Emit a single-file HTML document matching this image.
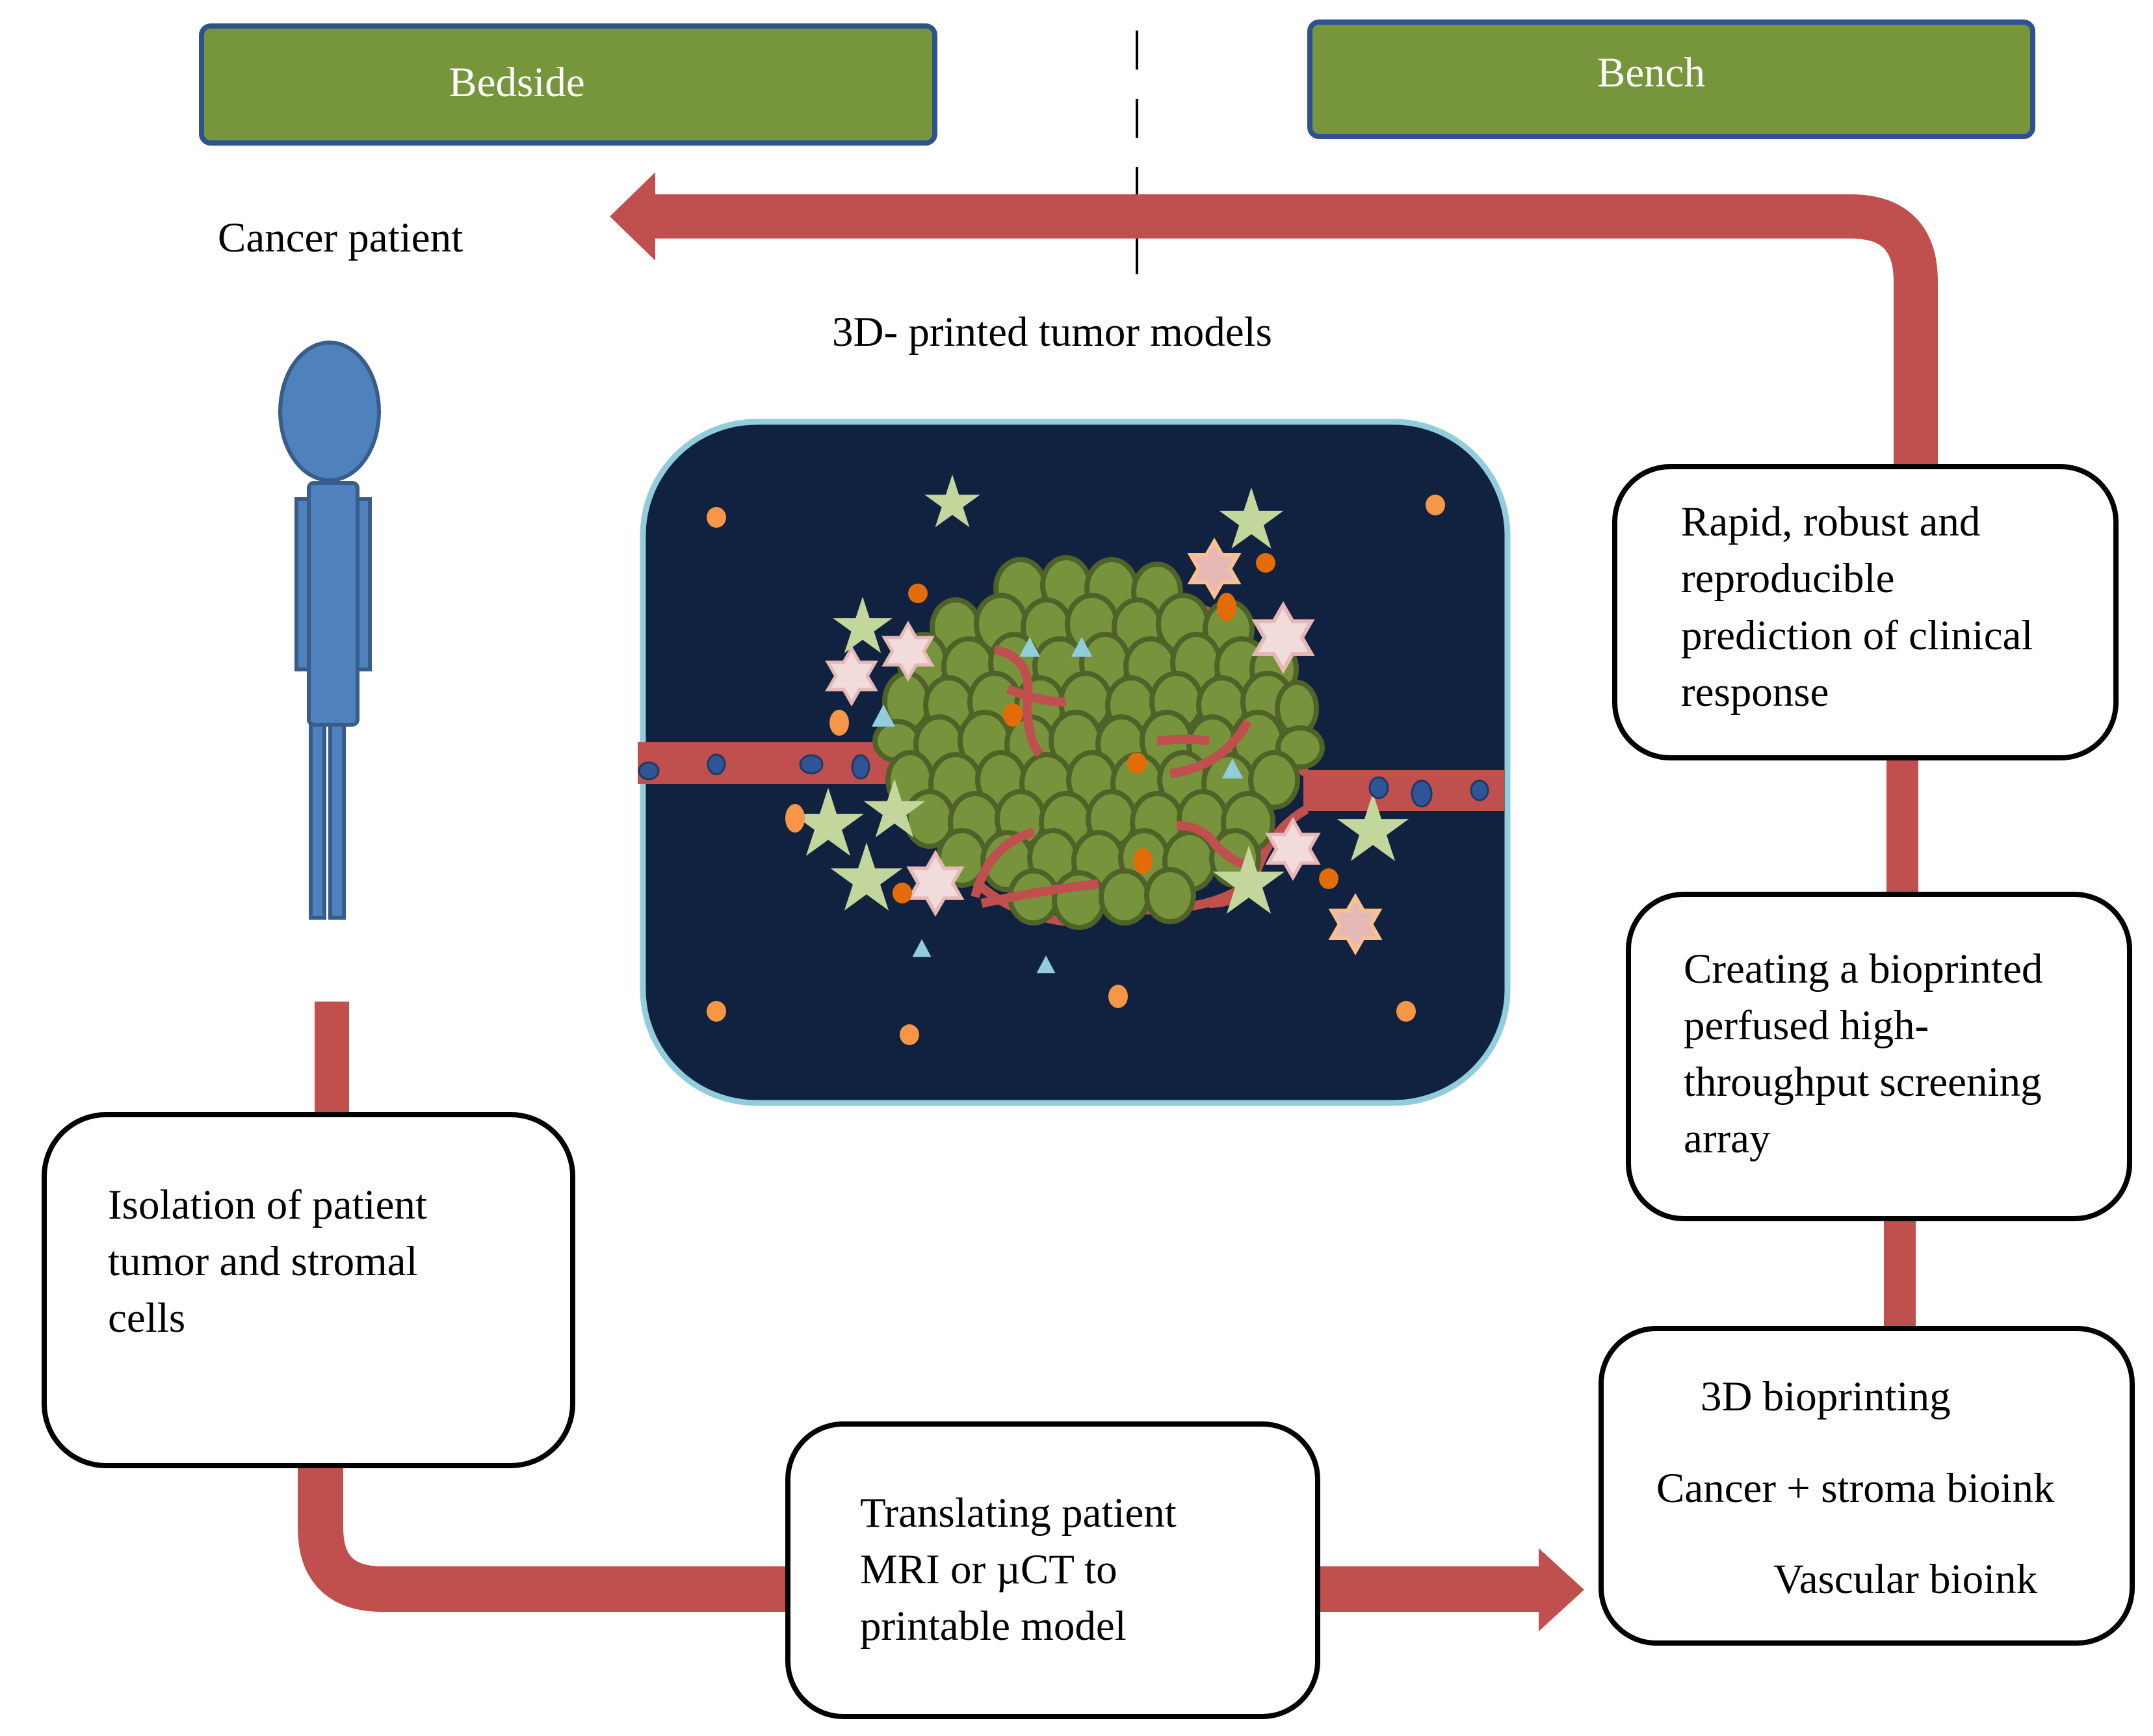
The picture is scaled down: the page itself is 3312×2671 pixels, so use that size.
<!DOCTYPE html>
<html><head><meta charset="utf-8"><style>
html,body{margin:0;padding:0;background:#fff}
body{width:3312px;height:2671px;overflow:hidden;position:relative;font-family:"Liberation Serif",serif;}
svg{position:absolute;left:0;top:0}
</style></head><body>
<svg width="3312" height="2671" viewBox="0 0 3312 2671" xmlns="http://www.w3.org/2000/svg">
<defs>
<polygon id="s5" points="0,-1 0.224,-0.309 0.951,-0.309 0.363,0.118 0.588,0.809 0,0.382 -0.588,0.809 -0.363,0.118 -0.951,-0.309 -0.224,-0.309"/>
<polygon id="s6" points="0,-1 0.289,-0.5 0.866,-0.5 0.577,0 0.866,0.5 0.289,0.5 0,1 -0.289,0.5 -0.866,0.5 -0.577,0 -0.866,-0.5 -0.289,-0.5"/>
<polygon id="tri" points="0,-1 0.9,0.7 -0.9,0.7"/>
</defs>
<rect x="310" y="40" width="1128" height="180" rx="14" fill="#77963b" stroke="#2f528f" stroke-width="8"/>
<rect x="2015" y="34" width="1112" height="176" rx="14" fill="#77963b" stroke="#2f528f" stroke-width="8"/>
<text x="795" y="148" font-size="65" fill="#fff" text-anchor="middle" font-family="Liberation Serif">Bedside</text>
<text x="2540" y="133" font-size="65" fill="#fff" text-anchor="middle" font-family="Liberation Serif">Bench</text>
<line x1="1749" y1="47" x2="1749" y2="446" stroke="#000" stroke-width="4" stroke-dasharray="60,45"/>
<path d="M1000 333 H2847 Q2947 333 2947 433 V722" fill="none" stroke="#c0504d" stroke-width="68"/>
<polygon points="938,333 1008,265 1008,401" fill="#c0504d"/>
<text x="335" y="387" font-size="65" font-family="Liberation Serif">Cancer patient</text>
<text x="1280" y="532" font-size="65" font-family="Liberation Serif">3D- printed tumor models</text>
<g fill="#4f81bd" stroke="#385d8a" stroke-width="6">
<rect x="456" y="768" width="19" height="262"/>
<rect x="550" y="768" width="19" height="262"/>
<rect x="478" y="1100" width="21" height="312"/>
<rect x="508" y="1100" width="21" height="312"/>
<rect x="475" y="743" width="75" height="372" rx="8"/>
<ellipse cx="507" cy="633" rx="76" ry="106"/>
</g>
<rect x="484" y="1541" width="53" height="176" fill="#c0504d"/>
<path d="M493 2255 V2350 Q493 2445 588 2445 H1212" fill="none" stroke="#c0504d" stroke-width="70"/>
<path d="M2027 2445 H2372" fill="none" stroke="#c0504d" stroke-width="70"/>
<polygon points="2437,2446 2367,2382 2367,2510" fill="#c0504d"/>
<rect x="2898" y="1873" width="49" height="173" fill="#c0504d"/>
<rect x="2902" y="1164" width="49" height="214" fill="#c0504d"/>
<g fill="#fff" stroke="#000" stroke-width="8">
<rect x="68" y="1715" width="813" height="540" rx="95"/>
<rect x="1212" y="2191" width="815" height="450" rx="85"/>
<rect x="2463" y="2044" width="817" height="484" rx="85"/>
<rect x="2505" y="1376" width="771" height="499" rx="85"/>
<rect x="2484" y="718" width="771" height="448" rx="85"/>
</g>
<g font-size="65" font-family="Liberation Serif" fill="#000">
<text x="166" y="1875">Isolation of patient</text>
<text x="166" y="1962">tumor and stromal</text>
<text x="166" y="2049">cells</text>
<text x="1323" y="2349">Translating patient</text>
<text x="1323" y="2436">MRI or µCT to</text>
<text x="1323" y="2523">printable model</text>
<text x="2616" y="2170">3D bioprinting</text>
<text x="2548" y="2311">Cancer + stroma bioink</text>
<text x="2728" y="2451">Vascular bioink</text>
<text x="2590" y="1512">Creating a bioprinted</text>
<text x="2590" y="1599">perfused high-</text>
<text x="2590" y="1686">throughput screening</text>
<text x="2590" y="1773">array</text>
<text x="2586" y="824">Rapid, robust and</text>
<text x="2586" y="911">reproducible</text>
<text x="2586" y="999">prediction of clinical</text>
<text x="2586" y="1086">response</text>
</g>
<rect x="989" y="649" width="1330" height="1048" rx="175" fill="#10223f" stroke="#92cddc" stroke-width="9"/>
<rect x="981" y="1142" width="390" height="64" fill="#c0504d"/>
<rect x="2005" y="1185" width="309" height="63" fill="#c0504d"/>
<g fill="none" stroke="#c0504d" stroke-width="14">
<path d="M1365 1150 Q1470 1120 1490 1010 Q1520 930 1620 930"/>
<path d="M1365 1200 Q1440 1230 1470 1320 Q1530 1410 1660 1420"/>
<path d="M2010 1190 Q1950 1150 1945 1040 Q1920 950 1810 925"/>
<path d="M2010 1245 Q1950 1280 1930 1350 Q1880 1400 1760 1400"/>
</g>
<g fill="#77933c" stroke="#4f6228" stroke-width="8">
<ellipse cx="1570" cy="905" rx="38" ry="44"/><ellipse cx="1640" cy="900" rx="36" ry="42"/><ellipse cx="1710" cy="905" rx="38" ry="44"/><ellipse cx="1780" cy="910" rx="36" ry="42"/>
<ellipse cx="1470" cy="965" rx="36" ry="42"/><ellipse cx="1540" cy="960" rx="38" ry="44"/><ellipse cx="1610" cy="965" rx="36" ry="42"/><ellipse cx="1680" cy="960" rx="38" ry="44"/><ellipse cx="1750" cy="965" rx="36" ry="42"/><ellipse cx="1820" cy="960" rx="38" ry="44"/><ellipse cx="1890" cy="968" rx="36" ry="42"/>
<ellipse cx="1420" cy="1020" rx="36" ry="44"/><ellipse cx="1490" cy="1025" rx="38" ry="42"/><ellipse cx="1560" cy="1020" rx="36" ry="44"/><ellipse cx="1630" cy="1025" rx="38" ry="42"/><ellipse cx="1700" cy="1020" rx="36" ry="44"/><ellipse cx="1770" cy="1025" rx="38" ry="42"/><ellipse cx="1840" cy="1020" rx="36" ry="44"/><ellipse cx="1910" cy="1025" rx="38" ry="42"/><ellipse cx="1960" cy="1030" rx="34" ry="42"/>
<ellipse cx="1395" cy="1080" rx="34" ry="44"/><ellipse cx="1460" cy="1085" rx="36" ry="42"/><ellipse cx="1530" cy="1080" rx="38" ry="44"/><ellipse cx="1600" cy="1085" rx="36" ry="42"/><ellipse cx="1670" cy="1080" rx="38" ry="44"/><ellipse cx="1740" cy="1085" rx="36" ry="42"/><ellipse cx="1810" cy="1080" rx="38" ry="44"/><ellipse cx="1880" cy="1085" rx="36" ry="42"/><ellipse cx="1950" cy="1080" rx="38" ry="44"/><ellipse cx="1995" cy="1090" rx="30" ry="40"/>
<ellipse cx="1380" cy="1140" rx="34" ry="30"/><ellipse cx="1445" cy="1145" rx="36" ry="42"/><ellipse cx="1515" cy="1140" rx="38" ry="44"/><ellipse cx="1585" cy="1145" rx="36" ry="42"/><ellipse cx="1655" cy="1140" rx="38" ry="44"/><ellipse cx="1725" cy="1145" rx="36" ry="42"/><ellipse cx="1795" cy="1140" rx="38" ry="44"/><ellipse cx="1865" cy="1145" rx="36" ry="42"/><ellipse cx="1935" cy="1140" rx="38" ry="44"/><ellipse cx="2000" cy="1150" rx="34" ry="30"/>
<ellipse cx="1400" cy="1200" rx="34" ry="42"/><ellipse cx="1470" cy="1205" rx="38" ry="44"/><ellipse cx="1540" cy="1200" rx="36" ry="42"/><ellipse cx="1610" cy="1205" rx="38" ry="44"/><ellipse cx="1680" cy="1200" rx="36" ry="42"/><ellipse cx="1750" cy="1205" rx="38" ry="44"/><ellipse cx="1820" cy="1200" rx="36" ry="42"/><ellipse cx="1890" cy="1205" rx="38" ry="44"/><ellipse cx="1960" cy="1200" rx="36" ry="42"/>
<ellipse cx="1430" cy="1260" rx="36" ry="42"/><ellipse cx="1500" cy="1265" rx="38" ry="44"/><ellipse cx="1570" cy="1260" rx="36" ry="42"/><ellipse cx="1640" cy="1265" rx="38" ry="44"/><ellipse cx="1710" cy="1260" rx="36" ry="42"/><ellipse cx="1780" cy="1265" rx="38" ry="44"/><ellipse cx="1850" cy="1260" rx="36" ry="42"/><ellipse cx="1920" cy="1265" rx="38" ry="44"/>
<ellipse cx="1480" cy="1320" rx="36" ry="42"/><ellipse cx="1550" cy="1325" rx="38" ry="44"/><ellipse cx="1620" cy="1320" rx="36" ry="42"/><ellipse cx="1690" cy="1325" rx="38" ry="44"/><ellipse cx="1760" cy="1320" rx="36" ry="42"/><ellipse cx="1830" cy="1325" rx="38" ry="44"/><ellipse cx="1900" cy="1320" rx="36" ry="42"/>
<ellipse cx="1590" cy="1380" rx="36" ry="40"/><ellipse cx="1660" cy="1385" rx="38" ry="42"/><ellipse cx="1730" cy="1380" rx="36" ry="40"/><ellipse cx="1800" cy="1378" rx="36" ry="40"/>
</g>
<g fill="none" stroke="#c0504d" stroke-width="14">
<path d="M1530 1000 Q1590 1010 1580 1080 Q1580 1140 1600 1160"/>
<path d="M1550 1060 Q1600 1080 1640 1080"/>
<path d="M1780 1140 Q1830 1135 1860 1140"/>
<path d="M1800 1190 Q1880 1180 1920 1110"/>
<path d="M1810 1270 Q1850 1270 1870 1300 Q1900 1330 1920 1330"/>
<path d="M1500 1380 Q1520 1300 1590 1280"/>
<path d="M1510 1390 Q1600 1370 1690 1360"/>
<path d="M1860 1390 Q1900 1390 1930 1360"/>
</g>
<g fill="#c3d69b">
<use href="#s5" transform="translate(1465,775) scale(45)"/>
<use href="#s5" transform="translate(1925,802) scale(52)"/>
<use href="#s5" transform="translate(1327,966) scale(48)"/>
<use href="#s5" transform="translate(1274,1270) scale(58)"/>
<use href="#s5" transform="translate(1376,1248) scale(50)"/>
<use href="#s5" transform="translate(1333,1354) scale(58)"/>
<use href="#s5" transform="translate(1921,1359) scale(58)"/>
<use href="#s5" transform="translate(2112,1278) scale(58)"/>
</g>
<g fill="#f2dcdb" stroke="#e6b9b8" stroke-width="0.12">
<use href="#s6" transform="translate(1397,1002) scale(42)"/>
<use href="#s6" transform="translate(1310,1040) scale(42)"/>
<use href="#s6" transform="translate(1974,981) scale(50)"/>
<use href="#s6" transform="translate(1439,1359) scale(46)"/>
<use href="#s6" transform="translate(1989,1306) scale(44)"/>
</g>
<g fill="#e6b9b8" stroke="#fac090" stroke-width="0.14">
<use href="#s6" transform="translate(1868,875) scale(42)"/>
<use href="#s6" transform="translate(2085,1422) scale(42)"/>
</g>
<g fill="#f79646">
<ellipse cx="1102" cy="796" rx="15" ry="16"/><ellipse cx="2208" cy="777" rx="15" ry="16"/>
<ellipse cx="1291" cy="1112" rx="15" ry="20"/><ellipse cx="1223" cy="1259" rx="15" ry="22"/>
<ellipse cx="1102" cy="1556" rx="15" ry="16"/><ellipse cx="1399" cy="1592" rx="15" ry="16"/>
<ellipse cx="1720" cy="1533" rx="15" ry="18"/><ellipse cx="2163" cy="1556" rx="15" ry="16"/>
</g>
<g fill="#e36c09">
<ellipse cx="1412" cy="913" rx="15" ry="15"/><ellipse cx="1947" cy="866" rx="15" ry="15"/>
<ellipse cx="1887" cy="934" rx="15" ry="22"/><ellipse cx="1558" cy="1100" rx="15" ry="18"/>
<ellipse cx="1749" cy="1174" rx="15" ry="16"/><ellipse cx="1758" cy="1325" rx="15" ry="20"/>
<ellipse cx="1388" cy="1374" rx="15" ry="16"/><ellipse cx="2044" cy="1352" rx="15" ry="16"/>
</g>
<g fill="#92cddc">
<use href="#tri" transform="translate(1584,998) scale(18)"/>
<use href="#tri" transform="translate(1664,998) scale(18)"/>
<use href="#tri" transform="translate(1359,1104) scale(20)"/>
<use href="#tri" transform="translate(1896,1185) scale(18)"/>
<use href="#tri" transform="translate(1418,1461) scale(16)"/>
<use href="#tri" transform="translate(1609,1486) scale(16)"/>
</g>
<g fill="#2f5597" stroke="#1f3864" stroke-width="3">
<ellipse cx="998" cy="1186" rx="15" ry="13"/><ellipse cx="1102" cy="1176" rx="13" ry="15"/>
<ellipse cx="1248" cy="1176" rx="17" ry="14"/><ellipse cx="1324" cy="1180" rx="13" ry="18"/>
<ellipse cx="2121" cy="1212" rx="14" ry="16"/><ellipse cx="2187" cy="1221" rx="15" ry="20"/>
<ellipse cx="2276" cy="1216" rx="13" ry="15"/>
</g>
</svg>
</body></html>
